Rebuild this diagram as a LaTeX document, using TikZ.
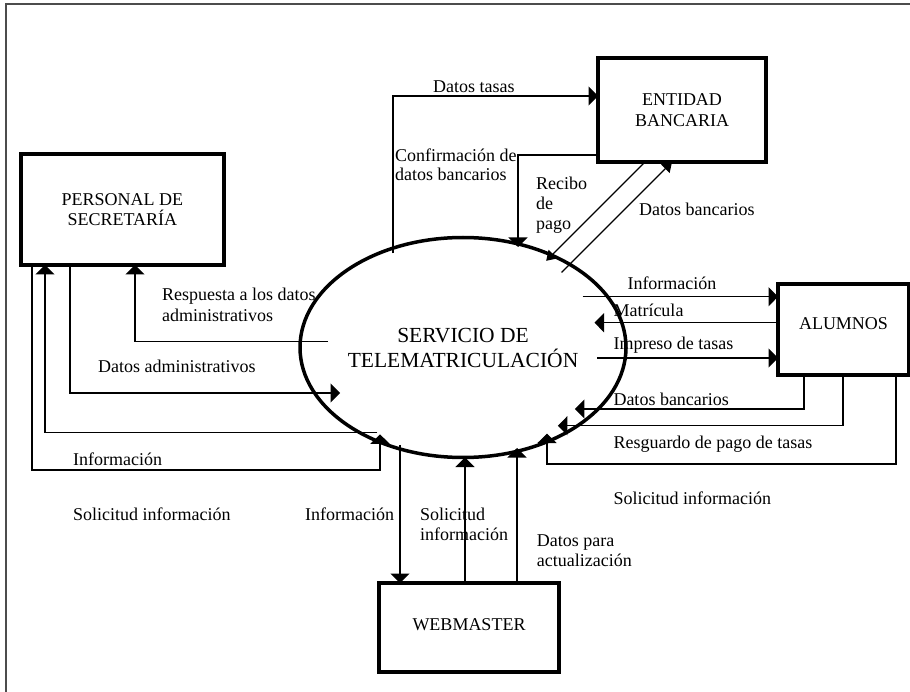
\documentclass[tikz,border=0pt]{standalone}
\usepackage{fontspec}
\setmainfont{Liberation Serif}
\usetikzlibrary{arrows.meta,shapes.geometric}
\tikzset{
  ext/.style={draw, line width=3.5pt, inner sep=0pt, outer sep=0pt, align=center,
    font=\fontsize{18}{20.5}\selectfont},
  flow/.style={line width=1.25pt, -{Triangle[width=19pt,length=9.5pt]}},
  flowd/.style={line width=1.25pt, -{Triangle[width=12pt,length=9.5pt]}},
  lbl/.style={anchor=base west, inner sep=0pt, align=left,
    font=\fontsize{18}{20}\selectfont},
  framec/.style={draw=black!70, line width=1.5pt}
}
\begin{document}
\begin{tikzpicture}[x=1pt,y=-1pt]
\useasboundingbox (0,0) rectangle (910,692);
\draw[framec] (6,692) -- (6,4) -- (910,4);

% nodes
\node[ellipse, draw, line width=3.5pt, minimum width=270pt, minimum height=220pt,
  inner sep=0pt, outer sep=0pt, align=center,
  font=\fontsize{21.5}{25}\selectfont] (srv) at (463,347.5) {SERVICIO DE\\TELEMATRICULACIÓN};
\node[ext, minimum width=168pt, minimum height=104pt] (ent) at (682,110) {ENTIDAD\\BANCARIA};
\node[ext, minimum width=203pt, minimum height=111pt] (per) at (122.4,209.5) {PERSONAL DE\\SECRETARÍA};
\node[ext, minimum width=131pt, minimum height=91pt, text height=12pt, text depth=11pt] (alu) at (843.5,329.5) {ALUMNOS};
\node[ext, minimum width=180pt, minimum height=89pt, text height=12pt, text depth=7pt] (web) at (469,627.5) {WEBMASTER};

% points on the ellipse
\coordinate (e1) at (393,253.4);
\coordinate (e2) at (518,247);
\coordinate (e3) at (546.2,260.8);
\coordinate (e4) at (561.6,272.4);
\coordinate (e5) at (328.2,341.7);
\coordinate (e6) at (340.1,393);
\coordinate (e7) at (377.3,432.5);
\coordinate (e8) at (380,434.3);
\coordinate (c8) at (380,470);
\coordinate (e9) at (400,444.8);
\coordinate (e10) at (465,457.5);
\coordinate (e11) at (517,448);
\coordinate (e12) at (582.7,296.7);
\coordinate (e13) at (594.5,322.7);
\coordinate (e14) at (597.4,358);
\coordinate (e15) at (574.9,409);
\coordinate (e16) at (557.9,425.7);
\coordinate (e17) at (547,433.6);
\coordinate (c17) at (547,464);

% connectors: bank
\draw[flow] (e1) |- (ent.west |- 0,96);
\draw[flow] (ent.west |- 0,155) -| (e2);
\draw[flowd] (ent.south -| 645,0) -- (e3);
\draw[flowd] (e4) -- (ent.south -| 672,0);
% secretaria
\draw[flow] (e5) -| (per.south -| 135,0);
\draw[flow] (per.south -| 70,0) |- (e6);
\draw[flow] (e7) -| (per.south -| 45,0);
\draw[flow] (per.south -| 32,0) |- (c8) -- (e8);
% webmaster
\draw[flow] (e9) -- (web.north -| e9);
\draw[flow] (web.north -| e10) -- (e10);
\draw[flow] (web.north -| e11) -- (e11);
% alumnos
\draw[flow] (e12) -- (alu.west |- e12);
\draw[flow] (alu.west |- e13) -- (e13);
\draw[flow] (e14) -- (alu.west |- e14);
\draw[flow] (alu.south -| 804,0) |- (e15);
\draw[flow] (alu.south -| 843,0) |- (e16);
\draw[flow] (alu.south -| 896,0) |- (c17) -- (e17);

% labels (multi-line labels are placed by the baseline of their last line)
\node[lbl] (l1) at (433,92.5) {Datos tasas};
\node[lbl, font=\fontsize{18}{19}\selectfont] (l2) at (395,180.7) {Confirmación de\\datos bancarios};
\node[lbl] (l3) at (536,230) {Recibo\\de\\pago};
\node[lbl, font=\fontsize{18}{21}\selectfont] (l5) at (162,321.5) {Respuesta a los datos\\administrativos};
\node[lbl] (l4) at (639,215.7) {Datos bancarios};
\node[lbl] (l6) at (98,372.3) {Datos administrativos};
\node[lbl] (l7) at (73,465.7) {Información};
\node[lbl] (l8) at (73,520.7) {Solicitud información};
\node[lbl] (l9) at (305,520.7) {Información};
\node[lbl, font=\fontsize{18}{20.5}\selectfont] (l10) at (420,540.5) {Solicitud\\información};
\node[lbl] (l11) at (536.7,566.7) {Datos para\\actualización};
\node[lbl] (l12) at (627.3,290) {Información};
\node[lbl] (l13) at (613.3,316.7) {Matrícula};
\node[lbl] (l14) at (613.3,349.3) {Impreso de tasas};
\node[lbl] (l15) at (613.3,405.7) {Datos bancarios};
\node[lbl] (l16) at (613.3,448.3) {Resguardo de pago de tasas};
\node[lbl] (l17) at (613.3,504) {Solicitud información};
\end{tikzpicture}
\end{document}
